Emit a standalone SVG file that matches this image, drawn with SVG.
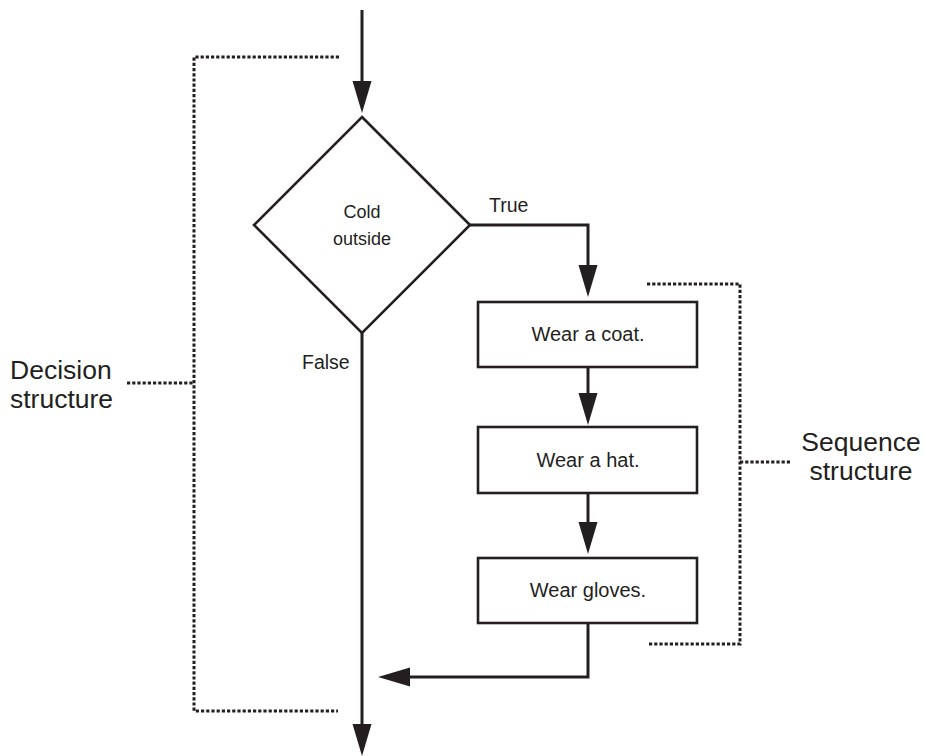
<svg xmlns="http://www.w3.org/2000/svg" width="925" height="756" viewBox="0 0 925 756">
<style>
text{font-family:"Liberation Sans",Arial,sans-serif;fill:#231f20}
.shape{fill:#fff;stroke:#231f20;stroke-width:2.6}
.conn{fill:none;stroke:#231f20;stroke-width:3}
.dot{fill:none;stroke:#231f20;stroke-width:3;stroke-dasharray:3.2 2}
.big{font-size:26.5px}
.box{font-size:20px;text-anchor:middle}
.lbl{font-size:19.5px}
</style>
<defs>
<marker id="ah" markerUnits="userSpaceOnUse" markerWidth="33" markerHeight="20" refX="0" refY="9.5" orient="auto">
<path d="M0,0 L32,9.5 L0,19 Z" fill="#231f20"/>
</marker>
</defs>
<g id="connectors">
<path class="conn" d="M362,10 V81" marker-end="url(#ah)"/>
<path class="conn" d="M470,225 H588 V265" marker-end="url(#ah)"/>
<path class="conn" d="M588,367 V393" marker-end="url(#ah)"/>
<path class="conn" d="M588,493 V522" marker-end="url(#ah)"/>
<path class="conn" d="M588,623 V677 H410" marker-end="url(#ah)"/>
<path class="conn" d="M362,332 V724" marker-end="url(#ah)"/>
<text class="lbl" x="489" y="212">True</text>
<text class="lbl" x="302" y="369">False</text>
</g>
<g id="decision">
<polygon class="shape" points="362,117 470,225 362,333 254,225"/>
<text class="box" style="font-size:18px" x="362" y="218">Cold</text>
<text class="box" style="font-size:18px" x="362" y="245">outside</text>
</g>
<g id="coat">
<rect class="shape" x="478" y="302" width="219" height="65"/>
<text class="box" x="588" y="341">Wear a coat.</text>
</g>
<g id="hat">
<rect class="shape" x="478" y="427" width="219" height="66"/>
<text class="box" x="588" y="467">Wear a hat.</text>
</g>
<g id="gloves">
<rect class="shape" x="478" y="558" width="219" height="65"/>
<text class="box" x="588" y="597">Wear gloves.</text>
</g>
<g id="decision-structure">
<path class="dot" d="M339,57 H194 V711 H338"/>
<path class="dot" d="M127,383 H194"/>
<text class="big" x="10" y="379">Decision</text>
<text class="big" x="10" y="408">structure</text>
</g>
<g id="sequence-structure">
<path class="dot" d="M647,284 H740 V644 H648"/>
<path class="dot" d="M740,462 H790"/>
<text class="big" x="861" y="451" text-anchor="middle">Sequence</text>
<text class="big" x="861" y="480" text-anchor="middle">structure</text>
</g>
</svg>
